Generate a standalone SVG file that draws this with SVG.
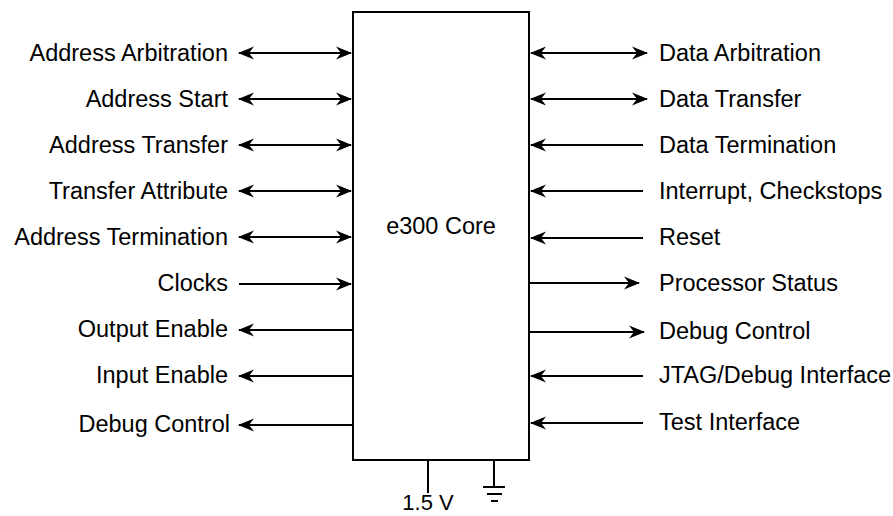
<svg xmlns="http://www.w3.org/2000/svg" width="893" height="516" viewBox="0 0 893 516">
<style>
text{font-family:"Liberation Sans",Arial,sans-serif;font-size:23.5px;fill:#000}
.l{text-anchor:end}
.c{text-anchor:middle}
.w{stroke:#000;stroke-width:2;fill:none}
</style>
<defs>
<marker id="ah" markerUnits="userSpaceOnUse" markerWidth="18" markerHeight="14" viewBox="-16 -7 18 14" refX="0" refY="0" orient="auto-start-reverse">
<path d="M1,0 L-15,-6.5 L-10,0 L-15,6.5 Z" fill="#000"/>
</marker>
</defs>
<rect width="893" height="516" fill="#fff"/>
<g id="core">
<rect x="353" y="12" width="176" height="448" class="w"/>
<text x="441" y="234" class="c">e300 Core</text>
</g>
<g id="power">
<line x1="428" y1="460" x2="428" y2="493" class="w"/>
<text x="428" y="510" class="c" style="font-size:22px">1.5 V</text>
</g>
<g id="ground">
<line x1="494" y1="460" x2="494" y2="487" class="w"/>
<line x1="483" y1="487" x2="505" y2="487" class="w"/>
<line x1="487" y1="494" x2="502" y2="494" class="w"/>
<line x1="491" y1="501" x2="498" y2="501" class="w"/>
</g>
<g id="labels-left">
<text x="228" y="61" class="l">Address Arbitration</text>
<text x="228" y="107" class="l">Address Start</text>
<text x="228" y="153" class="l">Address Transfer</text>
<text x="228" y="199" class="l">Transfer Attribute</text>
<text x="228" y="245" class="l">Address Termination</text>
<text x="228" y="291" class="l">Clocks</text>
<text x="228" y="337" class="l">Output Enable</text>
<text x="228" y="383" class="l">Input Enable</text>
<text x="230" y="432" class="l">Debug Control</text>
</g>
<g id="labels-right">
<text x="659" y="61">Data Arbitration</text>
<text x="659" y="107">Data Transfer</text>
<text x="659" y="153">Data Termination</text>
<text x="659" y="199">Interrupt, Checkstops</text>
<text x="659" y="245">Reset</text>
<text x="659" y="291">Processor Status</text>
<text x="659" y="339">Debug Control</text>
<text x="659" y="383">JTAG/Debug Interface</text>
<text x="659" y="430">Test Interface</text>
</g>
<g id="connectors" class="w">
<line x1="239" y1="53" x2="351" y2="53" marker-start="url(#ah)" marker-end="url(#ah)"/>
<line x1="239" y1="99" x2="351" y2="99" marker-start="url(#ah)" marker-end="url(#ah)"/>
<line x1="239" y1="145" x2="351" y2="145" marker-start="url(#ah)" marker-end="url(#ah)"/>
<line x1="239" y1="191" x2="351" y2="191" marker-start="url(#ah)" marker-end="url(#ah)"/>
<line x1="239" y1="237" x2="351" y2="237" marker-start="url(#ah)" marker-end="url(#ah)"/>
<line x1="239" y1="284" x2="351" y2="284" marker-end="url(#ah)"/>
<line x1="352" y1="330" x2="239" y2="330" marker-end="url(#ah)"/>
<line x1="352" y1="376" x2="239" y2="376" marker-end="url(#ah)"/>
<line x1="352" y1="425" x2="239" y2="425" marker-end="url(#ah)"/>
<line x1="531" y1="53" x2="647" y2="53" marker-start="url(#ah)" marker-end="url(#ah)"/>
<line x1="531" y1="99" x2="647" y2="99" marker-start="url(#ah)" marker-end="url(#ah)"/>
<line x1="643" y1="145" x2="531" y2="145" marker-end="url(#ah)"/>
<line x1="643" y1="191" x2="531" y2="191" marker-end="url(#ah)"/>
<line x1="643" y1="238" x2="531" y2="238" marker-end="url(#ah)"/>
<line x1="530" y1="283" x2="639" y2="283" marker-end="url(#ah)"/>
<line x1="530" y1="332" x2="644" y2="332" marker-end="url(#ah)"/>
<line x1="643" y1="376" x2="531" y2="376" marker-end="url(#ah)"/>
<line x1="643" y1="423" x2="531" y2="423" marker-end="url(#ah)"/>
</g>
</svg>
